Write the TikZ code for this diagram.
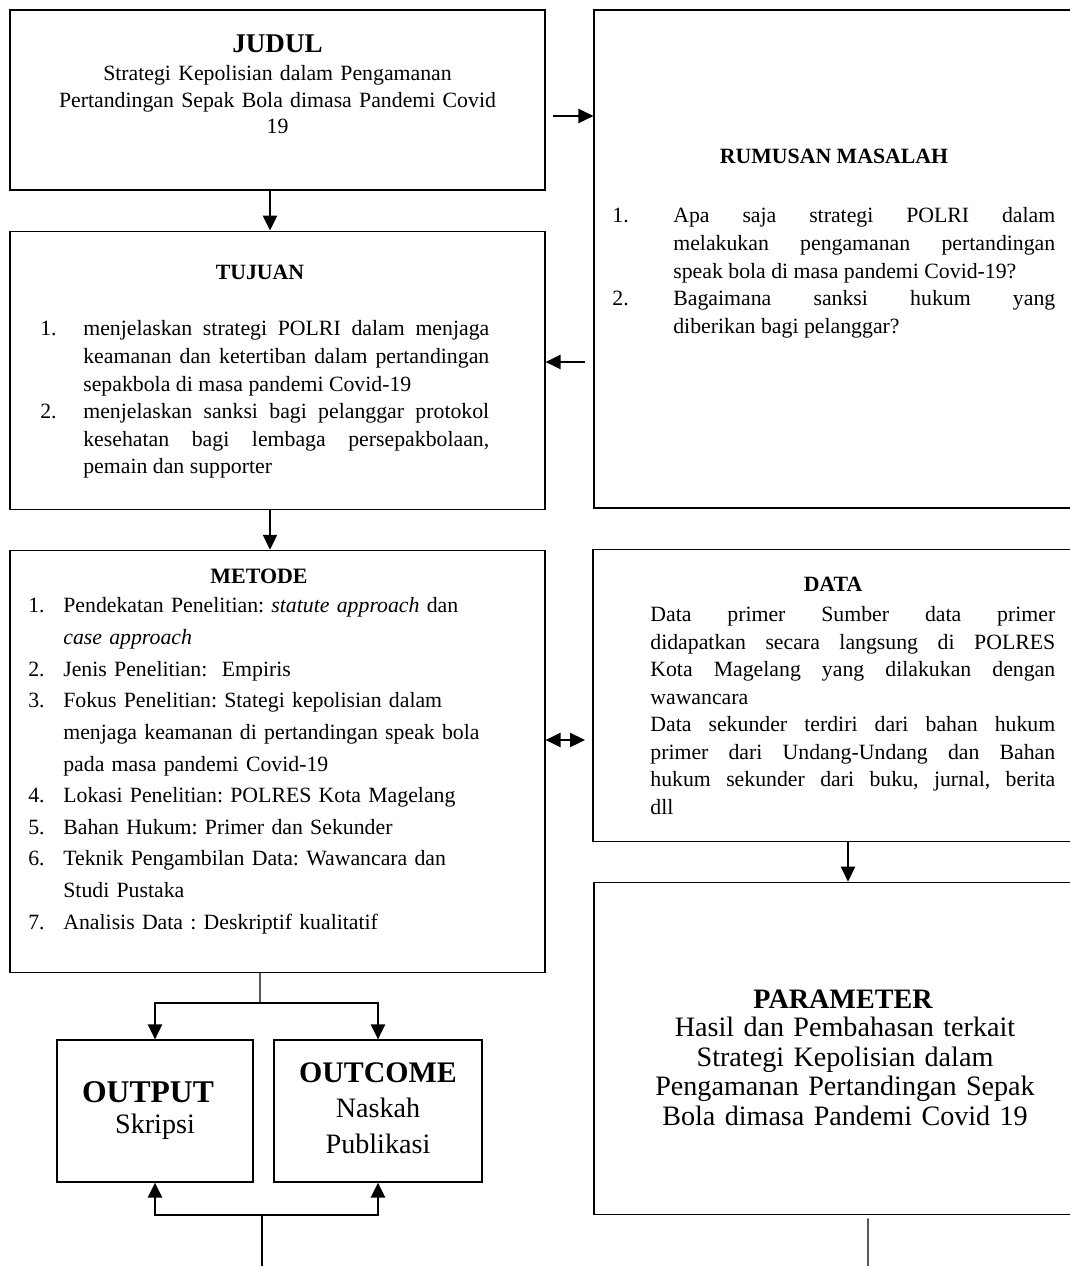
\documentclass[tikz,border=0pt]{standalone}
\usepackage{fontspec}
\setmainfont{Liberation Serif}
\usetikzlibrary{arrows.meta,positioning}
\setlength{\parindent}{0pt}
\frenchspacing

\newcommand{\numitem}[2]{\par\noindent\hangindent=#1\hangafter=1\makebox[#1][l]{#2}\ignorespaces}

\tikzset{
  box/.style={draw, line width=0.7pt, inner sep=0pt},
  arr/.style={line width=1.3pt, -{Triangle[length=0.3cm,width=0.28cm]}},
  darr/.style={line width=1.3pt, {Triangle[length=0.3cm,width=0.28cm]}-{Triangle[length=0.3cm,width=0.28cm]}},
  ln/.style={line width=0.6pt},
  body/.style={inner sep=0pt, font=\fontsize{12.4}{15.7}\selectfont},
  head/.style={inner sep=0pt, font=\fontsize{12.4}{14}\selectfont\bfseries},
}

\begin{document}
\begin{tikzpicture}[x=0.02cm, y=-0.02cm]
\useasboundingbox (0,0) rectangle (1070,1266);

% kotak
\node[box, minimum width=10.7cm, minimum height=3.6cm] (judul) at (277.5,100) {};
\node[box, minimum width=10.7cm, minimum height=5.56cm] (tujuan) [below=0.8cm of judul] {};
\node[box, minimum width=10.7cm, minimum height=8.44cm] (metode) [below=0.8cm of tujuan] {};
\node[box, minimum width=9.56cm, minimum height=9.96cm] (rumusan) at (833,259) {};
\node[box, minimum width=9.6cm, minimum height=5.84cm] (data) [below=0.8cm of rumusan] {};
\node[box, minimum width=9.56cm, minimum height=6.64cm] (param) [below=0.8cm of data] {};
\node[box, minimum width=3.92cm, minimum height=2.84cm] (output) at (155,1111) {};
\node[box, minimum width=4.16cm, minimum height=2.84cm] (outcome) at (378,1111) {};

% teks
\node[head, font=\fontsize{15.4}{17}\selectfont\bfseries] (judulT) at (277.5,44) {JUDUL};
\node[body, font=\fontsize{12.4}{15.2}\selectfont, text width=10cm, align=center, anchor=north] (judulB) at (277.5,65)
  {Strategi Kepolisian dalam Pengamanan\\ Pertandingan Sepak Bola dimasa Pandemi Covid\\ 19};

\node[head] (rumusanT) at (834,156) {RUMUSAN MASALAH};
\node[body, text width=8.86cm, align=justify, anchor=north west] (rumusanB) at (612,195)
  {\numitem{1.22cm}{1.}Apa saja strategi POLRI dalam\linebreak melakukan pengamanan pertandingan\linebreak speak bola di masa pandemi Covid-19?
   \numitem{1.22cm}{2.}Bagaimana sanksi hukum yang\linebreak diberikan bagi pelanggar?\par};

\node[head] (tujuanT) at (260,272) {TUJUAN};
\node[body, text width=8.98cm, align=justify, anchor=north west] (tujuanB) at (40,308)
  {\numitem{0.86cm}{1.}menjelaskan strategi POLRI dalam menjaga\linebreak keamanan dan ketertiban dalam pertandingan\linebreak sepakbola di masa pandemi Covid-19
   \numitem{0.86cm}{2.}menjelaskan sanksi bagi pelanggar protokol\linebreak kesehatan bagi lembaga persepakbolaan,\linebreak pemain dan supporter\par};

\node[head, font=\fontsize{12.5}{14}\selectfont\bfseries] (metodeT) at (259,576) {METODE};
\node[body, font=\fontsize{12.4}{18}\selectfont, text width=9.4cm, align=left, anchor=north west] (metodeB) at (28,581)
  {\numitem{0.7cm}{1.}Pendekatan Penelitian: \textit{statute approach} dan\newline \textit{case approach}
   \numitem{0.7cm}{2.}Jenis Penelitian:\ \ Empiris
   \numitem{0.7cm}{3.}Fokus Penelitian: Stategi kepolisian dalam\newline menjaga keamanan di pertandingan speak bola\newline pada masa pandemi Covid-19
   \numitem{0.7cm}{4.}Lokasi Penelitian: POLRES Kota Magelang
   \numitem{0.7cm}{5.}Bahan Hukum: Primer dan Sekunder
   \numitem{0.7cm}{6.}Teknik Pengambilan Data: Wawancara dan\newline Studi Pustaka
   \numitem{0.7cm}{7.}Analisis Data : Deskriptif kualitatif\par};

\node[head] (dataT) at (833,584) {DATA};
\node[body, text width=8.1cm, align=justify, anchor=north west] (dataB) at (650,606)
  {Data primer Sumber data primer\linebreak didapatkan secara langsung di POLRES\linebreak Kota Magelang yang dilakukan dengan\linebreak wawancara\par
   Data sekunder terdiri dari bahan hukum\linebreak primer dari Undang-Undang dan Bahan\linebreak hukum sekunder dari buku, jurnal, berita\linebreak dll\par};

\node[head, font=\fontsize{16}{18}\selectfont\bfseries] (paramT) at (843,999) {PARAMETER};
\node[body, font=\fontsize{16}{16.8}\selectfont, text width=9cm, align=center, anchor=north] (paramB) at (845,1017)
  {Hasil dan Pembahasan terkait\\ Strategi Kepolisian dalam\\ Pengamanan Pertandingan Sepak\\ Bola dimasa Pandemi Covid 19};

\node[head, font=\fontsize{18}{20}\selectfont\bfseries] (outputT) at (148,1092) {OUTPUT};
\node[body, font=\fontsize{16}{20}\selectfont] (outputB) at (155,1127) {Skripsi};
\node[head, font=\fontsize{17}{20}\selectfont\bfseries] (outcomeT) at (378,1073) {OUTCOME};
\node[body, font=\fontsize{16}{20.5}\selectfont, align=center, anchor=north] (outcomeB) at (378,1098) {Naskah\\ Publikasi};

% panah
\coordinate (jr) at (553,116);
\coordinate (rt) at (585,362);
\coordinate (md) at (585,740);
\draw[arr] (jr) -- (jr -| rumusan.west);
\draw[arr] (rt) -- (rt -| tujuan.east);
\draw[darr] (md -| metode.east) -- (md);
\draw[arr] ([xshift=-0.15cm]judul.south) -- ([xshift=-0.15cm]tujuan.north);
\draw[arr] ([xshift=-0.15cm]tujuan.south) -- ([xshift=-0.15cm]metode.north);
\draw[arr] ([xshift=0.3cm]data.south) -- ([xshift=0.3cm]param.north);

\coordinate (split) at (260,1003);
\draw[ln] ([xshift=-0.35cm]metode.south) -- (split);
\draw[arr] (split) -| (output.north);
\draw[arr] (split) -| (outcome.north);

\coordinate (join) at (262,1215);
\coordinate (tail) at (262,1266);
\draw[ln] (tail) -- (join);
\draw[arr] (join) -| (output.south);
\draw[arr] (join) -| (outcome.south);

\coordinate (ptail) at (868,1266);
\draw[ln] ([xshift=0.7cm,yshift=-2pt]param.south) -- (ptail);
\end{tikzpicture}
\end{document}
